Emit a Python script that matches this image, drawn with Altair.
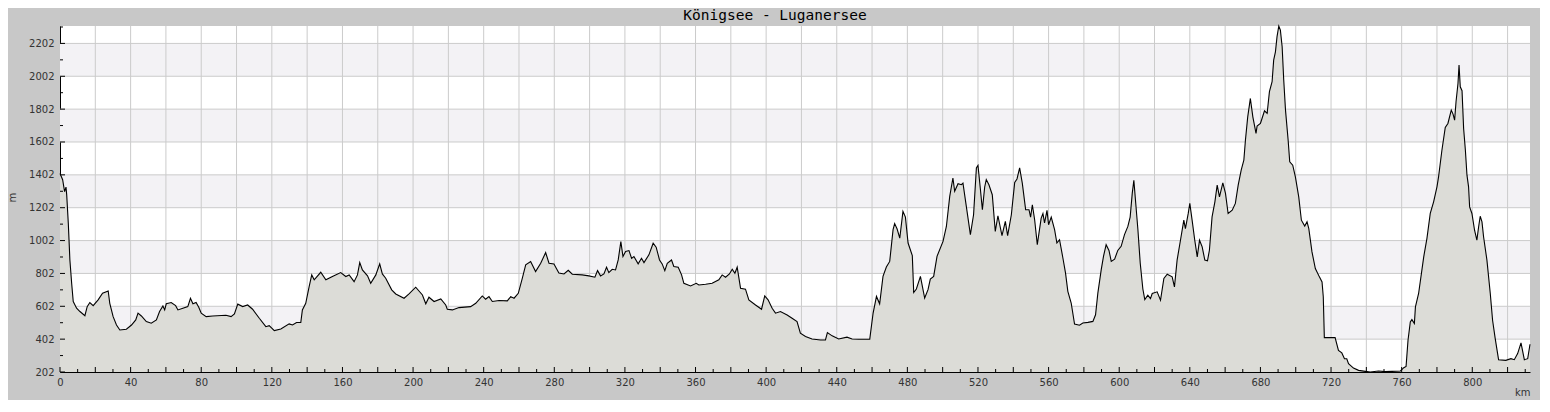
import altair as alt
import pandas as pd

# ---- profile data (km, elevation m) ----
KM = [0, 1.5, 2.6, 3.4, 3.8, 4.7, 5.6, 6.6, 7.5, 9.4, 11.3, 14.1, 15.4, 16.9, 18.8, 21.6, 24.1, 27.3, 28.2, 30.1,
      32, 33.9, 37.6, 40.5, 42.9, 44.2, 46.1, 48.9, 51.7, 54.6, 56.4, 58.3, 59.3, 60.2, 63, 65.5, 66.8, 69.6, 72.4, 73.9,
      75.3, 77.1, 78.6, 80, 82.8, 86.5, 94, 96.9, 98.8, 100.7, 103.5, 106.3, 109.1, 112.9, 116.6, 118.5, 121.4, 125.1, 129.8, 131.7,
      134, 136.4, 137.3, 139.2, 141.1, 142.6, 144, 147.7, 150.6, 154.3, 159, 161.9, 163.8, 166.6, 168.5, 169.8, 171.3, 174.2, 176, 178.9,
      181.1, 182.6, 184.5, 187.9, 190.2, 194.9, 197.7, 201.5, 205.3, 207.2, 209, 211.9, 215.7, 218.5, 219.4, 222.3, 226, 232.6, 235.5, 239.2,
      241.1, 243, 244.9, 248.7, 253.4, 255.3, 257.2, 259.6, 261.9, 263.8, 266.6, 269.4, 272.3, 275.1, 277, 279.8, 282.6, 285.5, 287.9, 290.2,
      295.8, 299.6, 303, 304.5, 306.2, 308.1, 309.6, 310.9, 312.8, 314.7, 316.2, 317.7, 318.9, 320.4, 322.3, 323.8, 325.1, 327.5, 329.4, 330.8,
      333.6, 336, 337.7, 339.6, 341.1, 342.6, 344, 346.4, 347.7, 350.2, 352.1, 353.4, 357.2, 360.4, 361.9, 365.7, 369.4, 373.2, 375.1, 377,
      379.2, 380.8, 382.3, 383.6, 385.5, 388.3, 390.2, 394, 397.4, 399.2, 401.1, 403.4, 405.3, 408.1, 411.9, 414.7, 417.5, 419.4, 422.3, 426,
      430.8, 433.6, 434.7, 437.4, 441.1, 445.8, 448.7, 452.5, 458.7, 460.6, 462.5, 464.3, 466.2, 468.1, 470, 471.9, 472.8, 474.2, 475.7, 477.5,
      478.9, 480.4, 482.8, 483.6, 485.1, 487.4, 489.8, 491.7, 493, 494.9, 496.8, 500.2, 502.1, 504, 505.8, 506.8, 508.7, 510.6, 511.5, 513.4,
      515.7, 517.5, 519.1, 520, 521.3, 522.5, 523.8, 524.7, 526.2, 528.1, 529.8, 531.3, 533.6, 535.5, 536.8, 538.9, 540.8, 542.1, 543.6, 545.1,
      547, 548.9, 549.8, 550.8, 552.1, 553.6, 555.8, 556.8, 557.7, 559.1, 560, 561.5, 563.4, 564.7, 566.2, 568.1, 569.6, 570.9, 572.8, 574.7,
      577.5, 579.4, 582.3, 585.1, 586.6, 587.9, 589.8, 591.1, 592.6, 594.2, 595.5, 597.4, 599.2, 601.1, 603, 604.9, 606.2, 607.4, 608.3, 609.2,
      610.6, 611.9, 613.4, 614.5, 616.2, 617.7, 618.7, 621.5, 623.4, 625.3, 627.2, 630, 631.3, 632.8, 634.7, 636.6, 637.5, 639.1, 640, 641.3,
      642.8, 644.2, 645.5, 647, 648.5, 650, 651.1, 652.6, 654.2, 655.5, 656.8, 658.7, 660.2, 661.7, 664, 665.8, 667.4, 669.1, 670.6, 671.5,
      672.8, 674.3, 675.7, 677.5, 678.1, 680, 680.9, 682.3, 683.8, 685.1, 686.6, 687.5, 688.5, 689.4, 690.4, 691.3, 692.3, 693.2, 694.2, 695.7,
      696.6, 698.3, 699.8, 701.7, 703.2, 705.1, 706.4, 707.4, 709.2, 711.1, 713.4, 714.9, 715.6, 716.2, 722.3, 724.2, 726.1, 727.6, 728.9, 729.9,
      732.7, 735.6, 739.4, 742.2, 746.9, 750.7, 754.5, 759.3, 761.2, 762.5, 763.6, 764.9, 765.8, 767.2, 767.8, 769.6, 772.5, 774.3, 776.2, 778.1,
      780, 780.9, 782.8, 784.7, 786.2, 788.1, 789.1, 790, 790.8, 791.9, 792.5, 793.2, 794.2, 795.1, 796.1, 797, 797.9, 798.5, 799.8, 801.3,
      802.6, 803.6, 804.5, 805.5, 806.4, 808.3, 810.2, 811.5, 813, 814.9, 819, 821.9, 823.8, 825.7, 827.6, 829.5, 831.4, 832.7]

ELEV = [1410, 1372, 1300, 1327, 1280, 1108, 884, 742, 631, 590, 570, 545, 600, 625, 606, 641, 681, 695, 620, 539,
        488, 458, 462, 488, 519, 560, 543, 509, 499, 519, 570, 604, 580, 617, 625, 606, 580, 590, 600, 651,
        617, 625, 596, 560, 539, 543, 547, 539, 555, 615, 600, 610, 584, 529, 478, 484, 454, 464, 495, 488,
        503, 503, 580, 620, 720, 793, 763, 809, 763, 783, 807, 783, 793, 752, 793, 868, 823, 787, 742, 793,
        860, 799, 773, 702, 677, 651, 677, 718, 671, 617, 657, 631, 647, 610, 584, 580, 594, 600, 620, 665,
        645, 661, 631, 637, 635, 661, 651, 681, 773, 854, 874, 813, 864, 929, 864, 860, 805, 799, 821, 797,
        793, 787, 779, 819, 787, 799, 840, 807, 827, 823, 884, 996, 905, 935, 941, 894, 905, 860, 894, 868,
        915, 986, 962, 884, 860, 819, 864, 884, 844, 840, 793, 742, 726, 742, 732, 736, 742, 763, 793, 779,
        799, 827, 803, 840, 712, 706, 641, 610, 584, 665, 641, 590, 560, 570, 549, 529, 509, 438, 418, 403,
        397, 397, 442, 422, 403, 414, 403, 401, 402, 561, 662, 617, 784, 841, 875, 1068, 1105, 1072, 1017, 1180,
        1145, 987, 910, 686, 707, 784, 652, 703, 768, 784, 906, 997, 1088, 1271, 1383, 1302, 1348, 1342, 1352, 1210,
        1038, 1159, 1444, 1460, 1322, 1190, 1328, 1373, 1342, 1281, 1058, 1153, 1032, 1119, 1032, 1159, 1356, 1377, 1444, 1352,
        1190, 1190, 1145, 1220, 1129, 977, 1139, 1166, 1109, 1186, 1098, 1145, 1068, 987, 1007, 896, 804, 693, 622, 494,
        487, 500, 504, 510, 550, 682, 824, 906, 977, 942, 875, 889, 942, 967, 1038, 1088, 1145, 1291, 1369, 1250,
        1068, 865, 707, 643, 669, 649, 680, 690, 639, 771, 797, 781, 720, 883, 1004, 1126, 1075, 1167, 1228, 1126,
        1004, 903, 1004, 964, 883, 879, 943, 1146, 1238, 1339, 1268, 1353, 1289, 1167, 1187, 1228, 1339, 1431, 1491, 1613,
        1755, 1867, 1755, 1654, 1699, 1715, 1745, 1792, 1776, 1908, 1969, 2100, 2151, 2243, 2308, 2283, 2182, 1979, 1796, 1613,
        1481, 1461, 1390, 1268, 1126, 1090, 1116, 1075, 933, 832, 781, 750, 660, 411, 411, 334, 318, 283, 283, 253,
        226, 212, 206, 202, 208, 204, 206, 208, 228, 236, 395, 507, 521, 497, 598, 680, 903, 1014, 1167, 1238,
        1329, 1390, 1552, 1690, 1715, 1796, 1772, 1735, 1847, 1958, 2070, 1938, 1914, 1684, 1552, 1400, 1329, 1207, 1167, 1065,
        1004, 1086, 1150, 1116, 1025, 883, 680, 517, 405, 277, 273, 283, 277, 314, 379, 277, 283, 371]

# ---- axis ticks / bands ----
Y_LABELS = [202, 402, 602, 802, 1002, 1202, 1402, 1602, 1802, 2002, 2202]
Y_MINOR = [302, 502, 702, 902, 1102, 1302, 1502, 1702, 1902, 2102, 2302]
X_LABELS = [0, 40, 80, 120, 160, 200, 240, 280, 320, 360, 400, 440, 480, 520, 560, 600, 640, 680, 720, 760, 800]
X_MAJOR = list(range(0, 821, 20))
X_MINOR = list(range(10, 831, 20))
BAND_LO = [402, 802, 1202, 1602, 2002]
BAND_HI = [602, 1002, 1402, 1802, 2202]

W, H = 1470, 346
X_DOMAIN = [0, 832.7]
Y_DOMAIN = [202, 2308]

xs = alt.Scale(domain=X_DOMAIN, nice=False, zero=False)
ys = alt.Scale(domain=Y_DOMAIN, nice=False, zero=False)

profile = pd.DataFrame({"km": KM, "elev": ELEV})
bands = pd.DataFrame({"lo": BAND_LO, "hi": BAND_HI})
xgrid = pd.DataFrame({"v": X_MAJOR[1:]})
ygrid = pd.DataFrame({"v": Y_LABELS[1:]})
xmaj = pd.DataFrame({"v": X_MAJOR})
xmin = pd.DataFrame({"v": X_MINOR})
ymaj = pd.DataFrame({"v": Y_LABELS})
ymin = pd.DataFrame({"v": Y_MINOR})

GRID = "#cbcbcb"
COMMON = dict(labelFont="DejaVu Sans", labelFontSize=10, labelColor="#333333",
              titleFont="DejaVu Sans", titleFontSize=10, titleFontWeight="normal", titleColor="#333333",
              domainColor="black", domainWidth=1, ticks=False, grid=False, labelOverlap=False,
              format="d")

X_AXIS = alt.Axis(values=X_LABELS, title="km", labelPadding=5, labelFlush=False,
                  titleAnchor="end", titleAlign="right", titleX=W, titleY=20,
                  titleBaseline="middle", **COMMON)
Y_AXIS = alt.Axis(values=Y_LABELS, title="m", labelPadding=6,
                  titleX=-48, titleY=171, titleAngle=-90, titleAlign="center",
                  titleBaseline="middle", labelBaseline="middle", **COMMON)

band_layer = alt.Chart(bands).mark_rect(color="#f3f2f5").encode(
    x=alt.value(0), x2=alt.value(W),
    y=alt.Y("lo:Q", scale=ys, axis=Y_AXIS), y2="hi:Q")

xgrid_layer = alt.Chart(xgrid).mark_rule(color=GRID, strokeWidth=1).encode(
    x=alt.X("v:Q", scale=xs, axis=X_AXIS), y=alt.value(0), y2=alt.value(H))

ygrid_layer = alt.Chart(ygrid).mark_rule(color=GRID, strokeWidth=1).encode(
    y=alt.Y("v:Q", scale=ys, axis=Y_AXIS), x=alt.value(0), x2=alt.value(W))

area_layer = alt.Chart(profile).mark_area(
    color="#dcdcd7", line={"color": "black", "strokeWidth": 1.1}, opacity=1
).encode(
    x=alt.X("km:Q", scale=xs, axis=X_AXIS),
    y=alt.Y("elev:Q", scale=ys, axis=Y_AXIS),
    y2=alt.datum(202),
)

xmaj_layer = alt.Chart(xmaj).mark_rule(color="black", strokeWidth=1).encode(
    x=alt.X("v:Q", scale=xs, axis=X_AXIS), y=alt.value(H), y2=alt.value(H - 5))
xmin_layer = alt.Chart(xmin).mark_rule(color="black", strokeWidth=1).encode(
    x=alt.X("v:Q", scale=xs, axis=X_AXIS), y=alt.value(H), y2=alt.value(H - 3))
ymaj_layer = alt.Chart(ymaj).mark_rule(color="black", strokeWidth=1).encode(
    y=alt.Y("v:Q", scale=ys, axis=Y_AXIS), x=alt.value(0), x2=alt.value(5))
ymin_layer = alt.Chart(ymin).mark_rule(color="black", strokeWidth=1).encode(
    y=alt.Y("v:Q", scale=ys, axis=Y_AXIS), x=alt.value(0), x2=alt.value(3))

chart = alt.layer(
    band_layer, xgrid_layer, ygrid_layer, area_layer,
    xmaj_layer, xmin_layer, ymaj_layer, ymin_layer,
).properties(
    width=W, height=H,
    title=alt.Title("Königsee - Luganersee", font="DejaVu Sans Mono", fontSize=14.5,
                    fontWeight="normal", color="black", anchor="middle", dx=-20, dy=4),
    autosize=alt.AutoSizeParams(type="none"),
    padding={"left": 52, "top": 18, "right": 10, "bottom": 28},
    background="#c8c8c8",
).configure_view(fill="white", stroke=None)

chart.save("out.html", embed_options={"renderer": "svg", "actions": False})
